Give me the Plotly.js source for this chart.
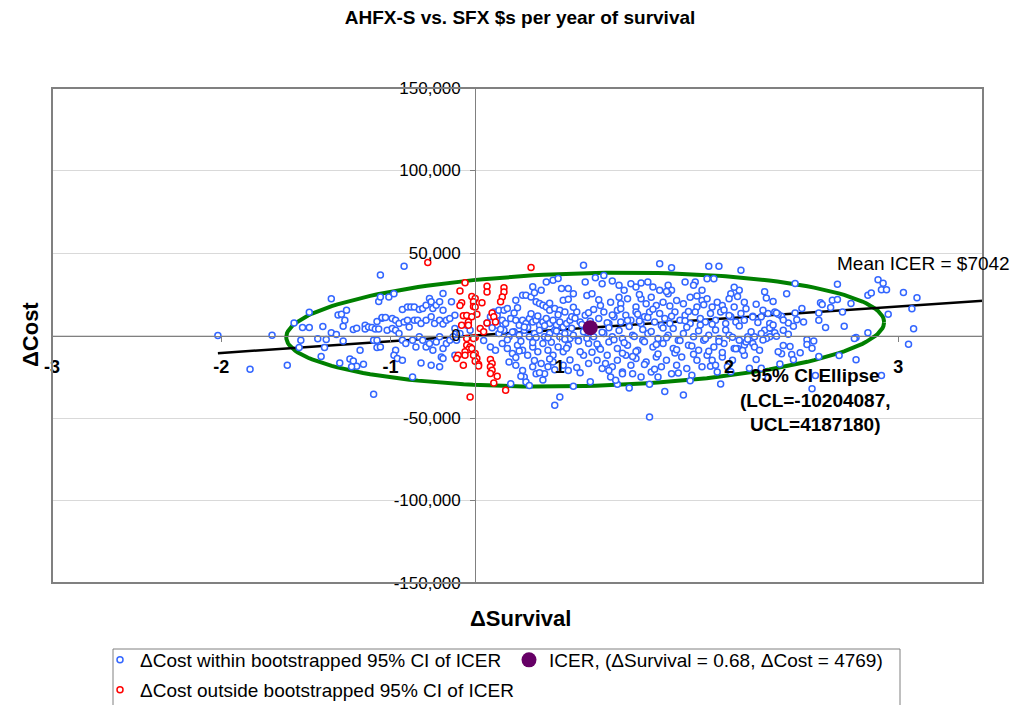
<!DOCTYPE html>
<html><head><meta charset="utf-8">
<script src="https://cdn.plot.ly/plotly-3.0.1.min.js"></script>
<style>html,body{margin:0;padding:0;background:#fff}</style>
</head><body><div id="chart" style="width:1016px;height:705px"></div>
<script>
// ---------------- DATA ----------------
const chartTitle = 'AHFX-S vs. SFX $s per year of survival';
const xTitle = 'ΔSurvival';
const yTitle = 'ΔCost';
const xTickVals = [-2.5, -1.5, -0.5, 0.5, 1.5, 2.5];
const xTickText = ['-3', '-2', '-1', '1', '2', '3'];
const yTickVals = [-150000, -100000, -50000, 0, 50000, 100000, 150000];
const yTickText = ['-150,000', '-100,000', '-50,000', '0', '50,000', '100,000', '150,000'];

const icerSurv = 0.68;
const icerCost = 4769;
const meanIcer = 7042;
const lineSurv = [-1.52, 3.04];

const ellCenterSurv = 0.65, ellCenterCost = 3550;
const ellHalfSurv = 1.766, ellHalfCost = 34200, ellTilt = 2576;

const blueName = 'ΔCost within bootstrapped 95% CI of ICER';
const redName = 'ΔCost outside bootstrapped 95% CI of ICER';
const icerName = 'ICER, (ΔSurvival = 0.68, ΔCost = 4769)';
const meanLabel = 'Mean ICER = $7042';
const ellipseLabel = '<b>95% CI Ellipse<br>(LCL=-10204087,<br>UCL=4187180)</b>';

const blueSurv = [
 -1.52,-1.33,-1.20,-1.11,-1.07,-1.02,-0.98,-0.98,-1.03,-1.04,-0.93,-0.91,-0.90,-0.89,-0.88,-0.85,-0.85,-0.82,-0.81,-0.79,-0.80,-0.78,-0.78,-0.77,-0.76,-0.74,-0.72,-0.72,-0.70,-0.73,-0.70,-0.68,-0.66,-0.65,-0.65,-0.63,-0.61,-0.60,-0.60,-0.59,-0.58,-0.58,-0.58,-0.57,-0.57,-0.56,-0.56,-0.55,-0.56,-0.55,-0.53,-0.52,-0.51,
 -0.42,-0.48,-0.43,-0.40,-0.38,-0.36,-0.33,-0.31,-0.29,-0.27,-0.26,-0.25,-0.23,-0.21,-0.19,-0.19,-0.14,-0.12,
 -0.49,-0.47,-0.45,-0.49,-0.42,-0.40,-0.39,-0.36,-0.34,-0.32,-0.29,-0.26,-0.24,-0.21,-0.19,-0.17,-0.15,
 -0.47,-0.45,-0.43,-0.41,-0.37,-0.35,-0.33,-0.31,-0.29,-0.27,-0.25,-0.23,-0.21,-0.19,-0.17,-0.15,-0.13,
 -0.47,-0.48,-0.46,-0.43,-0.32,-0.26,-0.21,-0.20,-0.19,-0.37,-0.12,-0.11,-0.09,-0.12,-0.05,-0.03,
 0.07,0.09,0.11,0.13,0.14,0.17,0.19,
 0.24,0.28,0.30,0.34,0.39,0.42,0.46,0.49,0.51,0.52,0.55,
 0.33,0.36,0.38,0.40,0.42,0.44,0.47,0.50,0.53,
 0.13,0.16,0.18,0.21,0.24,0.26,0.28,0.30,0.32,0.34,0.36,0.38,0.40,0.42,0.44,0.46,0.48,0.50,0.52,0.54,0.56,
 0.14,0.17,0.20,0.23,0.26,0.29,0.32,0.35,0.38,0.41,0.44,0.47,0.50,0.53,0.56,
 0.09,0.12,0.16,0.19,0.22,0.25,0.28,0.31,0.34,0.37,0.40,0.43,0.46,0.49,0.52,0.55,
 0.20,0.24,0.28,0.29,0.30,0.34,0.36,0.39,0.41,0.43,0.46,0.50,0.47,0.52,0.55,0.21,0.32,0.27,0.38,
 0.64,1.09,1.16,1.38,1.44,1.57,
 0.71,0.76,0.75,0.65,0.81,0.85,0.88,0.92,0.95,0.98,1.02,1.05,1.09,1.14,1.16,1.24,1.30,1.29,1.34,1.37,1.41,1.51,1.56,
 0.58,0.66,0.69,0.74,0.80,0.85,0.86,0.90,0.95,0.98,1.01,1.04,1.07,1.11,1.14,1.19,1.23,1.27,1.31,1.34,1.37,1.40,1.43,1.46,1.50,1.53,1.59,1.60,
 0.57,0.60,0.62,0.65,0.73,0.76,0.79,0.82,0.84,0.86,0.89,0.92,0.95,0.98,1.00,1.03,1.06,1.09,1.12,1.15,1.18,1.21,1.24,1.27,1.30,1.33,1.36,1.39,1.42,1.45,1.48,1.51,1.54,1.57,1.59,
 0.58,0.61,0.64,0.67,0.70,0.73,0.76,0.79,0.81,0.84,0.87,0.90,0.93,0.96,0.99,1.02,1.05,1.08,1.11,1.14,1.17,1.20,1.23,1.26,1.29,1.32,1.35,1.38,1.41,1.44,1.47,1.50,1.53,1.56,1.59,1.61,
 0.64,0.67,0.72,0.75,0.78,0.81,0.84,0.87,0.89,0.92,0.95,0.98,1.01,1.04,1.07,1.10,1.13,1.16,1.19,1.22,1.25,1.28,1.31,1.34,1.37,1.40,1.43,1.46,1.49,1.52,1.55,1.59,0.87,0.93,1.03,1.08,0.84,0.68,0.58,0.80,
 1.03,
 2.38,2.41,2.14,1.89,1.84,1.76,2.04,2.05,2.11,2.14,2.22,2.32,2.34,2.40,2.43,2.53,2.61,2.58,2.59,2.56,2.44,2.32,2.25,2.24,2.18,2.07,2.03,2.03,2.17,1.94,1.93,1.89,1.85,1.88,
 1.77,1.73,1.70,1.69,1.64,1.81,1.79,1.78,1.74,1.71,1.69,1.75,1.77,1.82,1.85,1.74,1.72,1.65,1.64,1.65,
 1.82,1.86,1.81,1.87,1.92,1.96,1.96,1.99,2.03,2.15,2.25,2.40,1.88,1.69,2.01,1.99,
 0.22,0.27,0.31,0.36,0.41,0.45,0.48,0.53,0.57,0.61,0.63,0.66,0.69,0.72,0.75,0.78,0.82,0.85,0.88,0.91,0.94,0.97,1.00,1.04,1.07,1.10,1.13,1.17,1.21,1.25,1.28,1.32,1.36,1.40,1.44,1.48,1.52,1.56,1.60,1.63,1.67,1.70,1.74,1.78,1.82,
 0.25,0.33,0.44,0.58,0.67,0.73,0.86,0.96,1.05,1.15,1.26,1.35,1.47,1.55,1.66,1.72,
 0.24,0.35,0.47,0.56,0.69,0.77,0.83,0.95,1.06,1.18,1.27,1.39,1.51,1.58,1.66,1.73,1.80,0.62,0.91,1.12,1.45,0.40,1.23,
 0.15,0.19,0.23,0.26,0.29,0.34,0.37,0.43,0.49,0.54,0.59,0.62,0.68,0.70,0.74,0.79,0.81,0.87,0.90,0.93,0.99,1.02,1.08,1.11,1.16,1.19,1.24,1.29,1.33,1.38,1.42,1.46,1.50,1.54,1.61,1.64,1.68,1.76,
 0.05,0.10,0.44,0.60,0.79,1.00,1.20,1.42,1.62,1.79,0.35,0.55,0.97,1.13,1.31,1.53,1.71,1.90,2.00,2.10
];
const blueCost = [
 0,-20400,200,-18000,7600,4800,4800,14100,-2900,-7300,-2000,-12700,5500,-7300,-2400,22200,1600,600,12500,12900,-16600,5600,-3300,9300,15300,-14200,3600,-15400,-18600,-19000,4400,-8900,-17400,6200,4000,5200,4800,-2900,-35600,4000,-7300,-2900,8500,4000,20600,23400,36700,10500,-6900,10900,10900,3200,23400,
 42000,25300,15800,17300,17300,17300,15800,16400,18400,22400,20400,16400,18400,20400,25500,15300,20400,12300,
 10300,9300,7300,4200,8200,9300,5200,9300,9300,7300,9300,11300,7300,9300,6900,9300,10300,
 3200,1200,-2900,-4900,-2900,-6900,-800,-2900,-6900,-4900,-8900,-3900,-800,-7900,-4900,-2900,-800,
 -8900,-11900,-14000,-15000,-16600,-18000,-19000,-13000,-14000,-25100,-12000,-2900,1200,4200,6200,3200,
 7600,11300,14300,12300,15300,15300,16400,
 21400,24400,24400,29500,27500,32500,33500,34600,28500,21400,28500,
 23400,20400,19400,18400,17300,15300,16400,15300,14300,
 6200,9300,7300,10300,9300,6200,9300,7300,10300,8200,9300,6200,8200,10300,7300,9300,6200,8200,5200,7300,9300,
 1200,3200,-800,2200,200,3200,-800,1200,3200,-800,1200,3200,-800,1200,-1800,
 -6900,-8900,-4900,-7900,-10900,-5900,-8900,-12000,-6900,-9900,-4900,-8900,-12000,-6900,-9900,-5900,
 -16000,-18000,-21200,-25100,-28200,-19000,-23200,-17000,-23200,-19000,-16000,-37200,-42200,-18000,-21200,-29300,-30300,-24700,-22600,
 42600,43500,41100,42000,42000,39600,
 35000,36400,31400,32400,33000,30500,27500,31400,29400,31800,32400,29400,27500,30500,27500,32400,32400,30500,27500,34400,34400,25300,27500,
 25300,24300,25300,18200,20200,23200,19200,22200,17200,22200,19200,23200,18200,20200,25300,21200,19200,23200,17200,21200,22200,17200,20200,18200,22200,17200,20200,16200,
 11300,14300,8200,12300,10300,14300,7300,11300,15300,8200,12300,9300,14300,7300,11300,14300,8200,13300,10300,7300,14300,9300,12300,7300,14300,10300,8200,13300,9300,14300,7300,11300,8200,13300,9300,
 200,-2900,2200,-4900,-800,-6900,1200,-3900,-800,-7900,-1800,-5900,200,-8900,-2900,1200,-6900,-1800,-4900,200,-7900,-2900,1200,-5900,-800,-8900,-2900,200,-6900,-1800,-4900,200,-7900,-2900,-5900,-800,
 -11900,-17000,-15000,-20000,-11900,-19000,-15000,-22100,-11900,-18000,-14000,-25100,-16000,-22100,-13000,-19000,-15000,-23200,-18000,-13000,-20000,-24100,-15000,-19000,-11900,-15000,-22100,-13000,-19000,-15000,-7900,-11900,-23200,-23200,-29600,-25100,-29600,-28100,-30700,-25100,
 -49400,
 33800,31700,31100,31500,25300,20600,19800,18800,21400,21800,19400,24400,25800,27800,27800,26000,22900,16200,4100,-5300,12900,1600,-1200,-1800,5600,4900,9300,13700,14300,8200,16300,13700,7600,5600,
 14300,13300,15300,11300,11700,11700,12900,13700,7300,3200,1200,4200,1600,3200,800,-800,-1800,-800,-4900,-6900,
 -6000,-6700,-11100,-11500,-10500,-2600,-5400,-7700,-12700,-12100,-14700,-24200,-14700,-19800,-24200,-32300,
 2100,-3500,4800,-1200,5900,-4100,2700,-2200,4400,-3300,6600,-1700,3900,-5200,1900,7700,-2600,3100,-4400,5500,-600,8800,-3800,2500,-5500,6100,-1400,4200,-3100,5000,-6300,2900,-2000,6800,-3600,3400,-1100,5700,-4000,2300,7900,-2700,4600,-400,9400,
 16800,13200,19600,17100,13800,21700,16200,12900,15900,17900,14600,18700,15400,23600,18900,22800,
 -13400,-15200,-20700,-14800,-10200,-16900,-27100,-9700,-20400,-10600,-27400,-18600,-21900,-9100,-14500,-25800,-17200,-22500,-31800,-33900,-29400,-27000,-36100,
 3800,-2600,13600,-9400,5100,-4300,11800,-1300,12600,-7700,10400,-9800,8600,15700,-8300,4700,12400,-10700,9100,-12800,3600,10900,-11200,4500,11600,-8600,8900,-11400,6400,-9600,3300,-10300,12100,-8100,-2200,11200,-8900,6300,
 -3000,4700,-14300,-19400,-21200,-17600,-22700,-18100,-19800,-9800,25900,22000,24800,26700,24000,29300,26500,9600,-3300,16900
];

const redSurv = [
 -0.28,0.33,-0.06,-0.09,0.07,0.07,0.17,0.17,0.16,0.15,-0.02,0.00,-0.01,-0.01,0.04,0.01,-0.08,-0.09,-0.07,-0.05,-0.02,-0.04,-0.04,-0.08,0.10,0.11,0.07,0.12,0.03,0.05,
 0.00,-0.05,-0.01,-0.05,-0.03,-0.04,-0.02,-0.06,-0.10,-0.11,-0.06,0.00,0.01,0.00,0.02,-0.01,-0.07,0.02,0.09,0.10,0.09,0.10,0.09,0.13,0.11,0.18,-0.03,0.00
];
const redCost = [
 44300,41200,31900,27000,29900,26400,28900,26400,23400,20400,23600,22500,20400,17600,19800,12900,19800,18200,11900,12100,11300,8200,6200,6200,13700,11300,7600,8200,4200,2200,
 -1200,-1800,-1800,-5900,-6900,-8500,-7900,-9900,-12000,-14000,-12000,-10900,-14000,-15600,-17600,-12000,-18000,-18500,-14500,-17000,-19000,-21000,-23000,-24700,-28800,-33200,-37200,17300
];

// ---------------- DERIVED GEOMETRY ----------------
const ellSurv = [], ellCost = [];
for (let i = 0; i <= 180; i++) {
  const t = 2 * Math.PI * i / 180;
  const dx = ellHalfSurv * Math.cos(t);
  ellSurv.push(ellCenterSurv + dx);
  ellCost.push(ellCenterCost + ellTilt * dx + ellHalfCost * Math.sin(t));
}
const lineCost = lineSurv.map(v => meanIcer * v);

const nB = Math.min(blueSurv.length, blueCost.length);
const nR = Math.min(redSurv.length, redCost.length);

const FONT = 'Liberation Sans, Arial, sans-serif';
const L = 52, W = 931, B = 583, H = 495;
const px = v => (v - L) / W;
const py = v => (B - v) / H;

const traces = [
  {x: ellSurv, y: ellCost, mode: 'lines', line: {color: '#008000', width: 4}, showlegend: false, hoverinfo: 'skip'},
  {x: lineSurv, y: lineCost, mode: 'lines', line: {color: '#000000', width: 2.5}, showlegend: false, hoverinfo: 'skip'},
  {x: blueSurv.slice(0, nB), y: blueCost.slice(0, nB), mode: 'markers', name: blueName, legend: 'legend', legendrank: 1,
   marker: {symbol: 'circle', size: 6, color: '#ffffff', line: {color: '#3366ff', width: 1.5}}},
  {x: redSurv.slice(0, nR), y: redCost.slice(0, nR), mode: 'markers', name: redName, legend: 'legend2', legendrank: 3,
   marker: {symbol: 'circle', size: 6, color: '#ffffff', line: {color: '#ff0000', width: 1.5}}},
  {x: [icerSurv], y: [icerCost], mode: 'markers', name: icerName, legend: 'legend', legendrank: 2,
   marker: {symbol: 'circle', size: 15, color: '#660066', line: {width: 0}}}
];

const layout = {
  width: 1016, height: 705,
  margin: {l: 52, r: 33, t: 88, b: 122, pad: 0, autoexpand: false},
  paper_bgcolor: '#ffffff', plot_bgcolor: '#ffffff',
  font: {family: FONT, size: 17, color: '#000000'},
  title: {text: '<b>' + chartTitle + '</b>', x: 520 / 1016, xref: 'container', xanchor: 'center',
          y: 1 - 17 / 705, yref: 'container', yanchor: 'middle', font: {family: FONT, size: 19, color: '#000'}},
  xaxis: {range: [-2.5, 3.0], domain: [0, 1], anchor: 'free', position: 0.5,
          tickmode: 'array', tickvals: xTickVals, ticktext: xTickText,
          ticks: 'outside', ticklen: 5, tickcolor: '#808080', tickwidth: 1,
          showline: true, linecolor: '#808080', linewidth: 1, showgrid: false, zeroline: false,
          tickfont: {family: FONT, size: 18, weight: 'bold', color: '#000'}, ticklabelstandoff: 10},
  yaxis: {range: [-150000, 150000], domain: [0, 1], anchor: 'free', position: 2.5 / 5.5,
          tickmode: 'array', tickvals: yTickVals, ticktext: yTickText,
          ticks: 'outside', ticklen: 5, tickcolor: '#808080', tickwidth: 1,
          showline: true, linecolor: '#808080', linewidth: 1,
          showgrid: true, gridcolor: '#d9d9d9', gridwidth: 1, zeroline: false,
          tickfont: {family: FONT, size: 17, color: '#000'}, ticklabelstandoff: 6},
  showlegend: true,
  legend: {orientation: 'h', x: px(100), xanchor: 'left', y: py(641), yanchor: 'top',
           font: {family: FONT, size: 19, color: '#000'}, entrywidth: 364, entrywidthmode: 'pixels',
           bgcolor: 'rgba(0,0,0,0)', borderwidth: 0, traceorder: 'normal'},
  legend2: {orientation: 'h', x: px(100), xanchor: 'left', y: py(671), yanchor: 'top',
           font: {family: FONT, size: 19, color: '#000'},
           bgcolor: 'rgba(0,0,0,0)', borderwidth: 0},
  shapes: [
    {type: 'rect', xref: 'paper', yref: 'paper', x0: 0, x1: 1, y0: 0, y1: 1, line: {color: '#808080', width: 2}, layer: 'above'},
    {type: 'rect', xref: 'paper', yref: 'paper', x0: px(113), x1: px(900), y0: py(712), y1: py(649), line: {color: '#808080', width: 1}}
  ],
  annotations: [
    {text: '<b>' + yTitle + '</b>', xref: 'paper', yref: 'paper', x: px(30), y: py(335), textangle: -90,
     showarrow: false, xanchor: 'center', yanchor: 'middle', font: {family: FONT, size: 22, color: '#000'}},
    {text: '<b>' + xTitle + '</b>', xref: 'paper', yref: 'paper', x: px(520), y: py(618),
     showarrow: false, xanchor: 'center', yanchor: 'middle', font: {family: FONT, size: 22, color: '#000'}},
    {text: meanLabel, xref: 'paper', yref: 'paper', x: px(835), y: py(263), xanchor: 'left', yanchor: 'middle',
     showarrow: false, font: {family: FONT, size: 19, color: '#000'}},
    {text: ellipseLabel, xref: 'paper', yref: 'paper', x: px(815), y: py(400), xanchor: 'center', yanchor: 'middle',
     align: 'center', showarrow: false, font: {family: FONT, size: 19, color: '#000'}}
  ]
};

Plotly.newPlot('chart', traces, layout, {displayModeBar: false, staticPlot: true});
</script></body></html>
